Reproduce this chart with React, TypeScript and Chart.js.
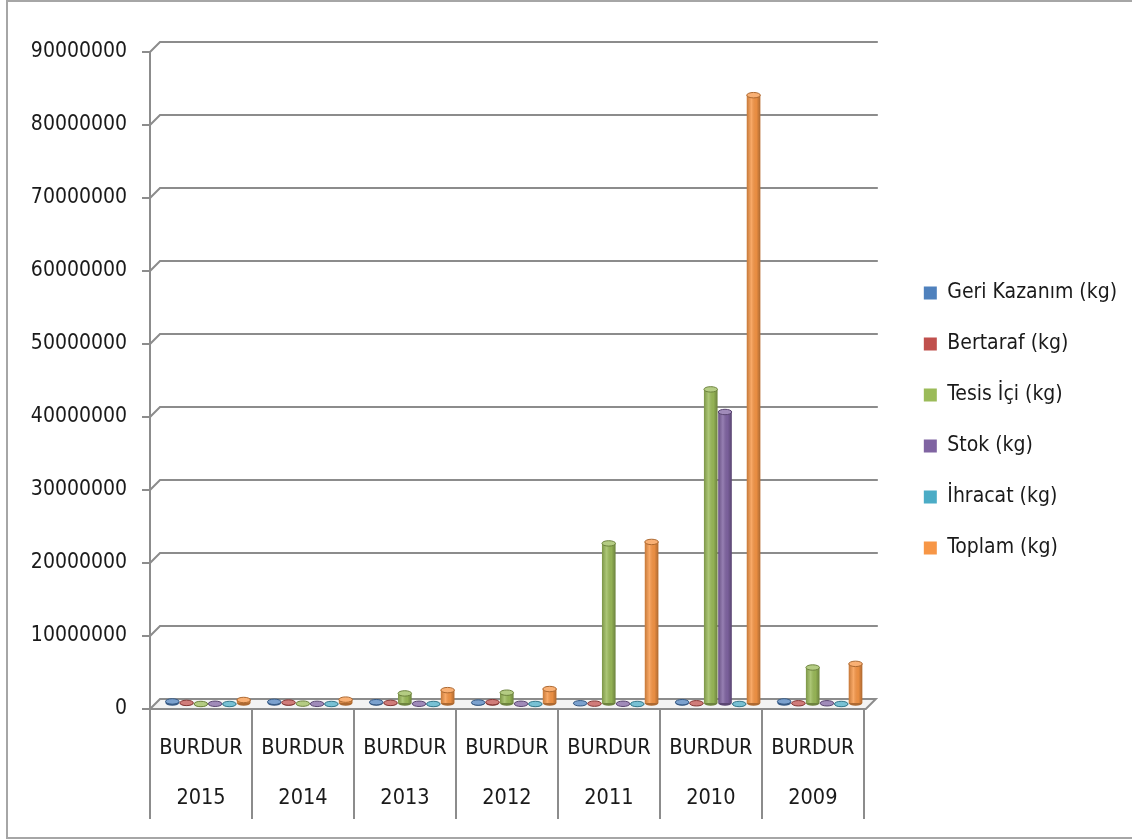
import { useEffect, useRef } from 'react';
import { Chart, registerables } from 'chart.js';

Chart.register(...registerables);

// ---- data ----
const region = 'BURDUR';
const years = ['2015', '2014', '2013', '2012', '2011', '2010', '2009'];
const seriesNames = ['Geri Kazanım (kg)', 'Bertaraf (kg)', 'Tesis İçi (kg)', 'Stok (kg)', 'İhracat (kg)', 'Toplam (kg)'];
const geriKazanim = [350000, 300000, 250000, 200000, 100000, 250000, 350000];
const bertaraf = [150000, 200000, 150000, 250000, 50000, 100000, 100000];
const tesisIci = [0, 50000, 1450000, 1550000, 22000000, 43100000, 5000000];
const stok = [30000, 20000, 30000, 30000, 30000, 40000000, 100000];
const ihracat = [0, 0, 0, 0, 0, 0, 0];
const toplam = [550000, 600000, 1900000, 2050000, 22200000, 83400000, 5500000];
const yMin = 0;
const yMax = 90000000;
const yStep = 10000000;

// ---- styles ----
const seriesColors = ['#4F81BD', '#C0504D', '#9BBB59', '#8064A2', '#4BACC6', '#F79646'];
const FONT = '"DejaVu Sans Condensed", "DejaVu Sans", sans-serif';
const TEXT = '#1a1a1a';
const LINE = '#8c8c8c';

function shade(hex: string, f: number): string {
  const n = parseInt(hex.slice(1), 16);
  let r = (n >> 16) & 255, g = (n >> 8) & 255, b = n & 255;
  if (f < 0) {
    r = Math.round(r * (1 + f)); g = Math.round(g * (1 + f)); b = Math.round(b * (1 + f));
  } else {
    r = Math.round(r + (255 - r) * f); g = Math.round(g + (255 - g) * f); b = Math.round(b + (255 - b) * f);
  }
  return `rgb(${r},${g},${b})`;
}

const DX = 10, DY = 10; // back wall depth
const BX = 7, BY = 5; // bar depth shift

const threeD = {
  id: 'threeD',
  beforeDatasetsDraw(chart: any) {
    const { ctx, chartArea: a, scales } = chart;
    const y = scales.y;
    const y0 = y.getPixelForValue(0);
    ctx.save();
    ctx.lineWidth = 2;
    ctx.strokeStyle = LINE;
    // floor
    ctx.beginPath();
    ctx.moveTo(a.left, y0);
    ctx.lineTo(a.left + DX, y0 - DY);
    ctx.lineTo(a.right + DX + 2, y0 - DY);
    ctx.lineTo(a.right + 2, y0);
    ctx.closePath();
    ctx.fillStyle = '#f3f3f3';
    ctx.fill();
    ctx.stroke();
    // back gridlines
    y.ticks.forEach((t: any) => {
      if (t.value === 0) return;
      const py = y.getPixelForValue(t.value);
      ctx.beginPath();
      ctx.moveTo(a.left, py);
      ctx.lineTo(a.left + DX, py - DY);
      ctx.lineTo(a.right + DX + 4, py - DY);
      ctx.stroke();
    });
    ctx.restore();
    ctx.save();
    ctx.translate(BX, -BY);
  },
  afterDatasetsDraw(chart: any) {
    const { ctx } = chart;
    chart.data.datasets.forEach((ds: any, di: number) => {
      const meta = chart.getDatasetMeta(di);
      if (meta.hidden) return;
      const base = seriesColors[di];
      const dark = shade(base, -0.3);
      const light = shade(base, 0.25);
      meta.data.forEach((bar: any) => {
        const p = bar.getProps(['x', 'y', 'base', 'width'], true);
        const w = p.width;
        const l = p.x - w / 2;
        const ry = Math.max(2, w * 0.2);
        ctx.beginPath();
        ctx.ellipse(p.x, p.base, w / 2, ry, 0, 0, Math.PI);
        ctx.fillStyle = dark;
        ctx.fill();
        if (p.base - p.y > 0.5) {
          const g = ctx.createLinearGradient(l, 0, l + w, 0);
          g.addColorStop(0, 'rgba(0,0,0,0.2)');
          g.addColorStop(0.35, 'rgba(255,255,255,0.18)');
          g.addColorStop(0.7, 'rgba(0,0,0,0.05)');
          g.addColorStop(1, 'rgba(0,0,0,0.3)');
          ctx.fillStyle = g;
          ctx.fillRect(l, p.y, w, p.base - p.y);
        }
        ctx.beginPath();
        ctx.ellipse(p.x, p.y, w / 2, ry, 0, 0, Math.PI * 2);
        ctx.fillStyle = light;
        ctx.fill();
        ctx.lineWidth = 1;
        ctx.strokeStyle = dark;
        ctx.stroke();
      });
    });
    ctx.restore();
  },
};

export default function App() {
  const ref = useRef<HTMLCanvasElement | null>(null);

  useEffect(() => {
    if (!ref.current) return;
    const values = [geriKazanim, bertaraf, tesisIci, stok, ihracat, toplam];
    const chart = new Chart(ref.current, {
      type: 'bar',
      data: {
        labels: years.map((yr) => [region, yr]),
        datasets: seriesNames.map((name, i) => ({
          label: name,
          data: values[i],
          backgroundColor: seriesColors[i],
          borderWidth: 0,
          categoryPercentage: 0.84,
          barPercentage: 0.95,
        })),
      },
      options: {
        responsive: false,
        animation: false,
        layout: { padding: { top: 22, bottom: 20, left: 0, right: 5 } },
        plugins: {
          legend: {
            position: 'right',
            maxWidth: 400,
            labels: {
              boxWidth: 13,
              boxHeight: 13,
              padding: 30,
              color: TEXT,
              font: { family: FONT, size: 21 },
            },
          },
          tooltip: { enabled: false },
        },
        scales: {
          x: {
            type: 'category',
            position: 'bottom',
            offset: true,
            grid: {
              display: true,
              offset: true,
              drawOnChartArea: false,
              drawTicks: true,
              tickLength: 110,
              color: LINE,
              lineWidth: 2,
            },
            border: { display: false },
            ticks: {
              padding: -96,
              color: TEXT,
              maxRotation: 0,
              autoSkip: false,
              font: { family: FONT, size: 21.5, lineHeight: '50px' },
            },
            afterFit: (s: any) => { s.height = 110; },
          },
          xTop: {
            type: 'category',
            position: 'top',
            display: true,
            grid: { display: false },
            border: { display: false },
            ticks: { display: false },
            afterFit: (s: any) => { s.height = 30; },
          },
          y: {
            min: yMin,
            max: yMax,
            ticks: {
              stepSize: yStep,
              padding: 15,
              color: TEXT,
              font: { family: FONT, size: 21 },
              callback: (v: any) => String(v),
            },
            grid: {
              drawOnChartArea: false,
              drawTicks: true,
              tickLength: 8,
              color: LINE,
              lineWidth: 2,
            },
            border: { display: true, color: LINE, width: 2 },
            afterFit: (s: any) => { s.width = 150; },
          },
          yR: {
            position: 'right',
            display: true,
            grid: { display: false },
            border: { display: false },
            ticks: { display: false },
            afterFit: (s: any) => { s.width = 30; },
          },
        },
      } as any,
      plugins: [threeD],
    });
    return () => chart.destroy();
  }, []);

  return (
    <div style={{ position: 'absolute', left: 0, top: 0, width: 1132, height: 839, overflow: 'hidden', background: '#fff' }}>
      <div
        style={{
          position: 'absolute',
          left: 6,
          top: 0,
          width: 1140,
          height: 839,
          border: '2px solid #a6a6a6',
          boxSizing: 'border-box',
        }}
      />
      <canvas ref={ref} width={1132} height={839} style={{ position: 'absolute', left: 0, top: 0, width: 1132, height: 839 }} />
    </div>
  );
}
